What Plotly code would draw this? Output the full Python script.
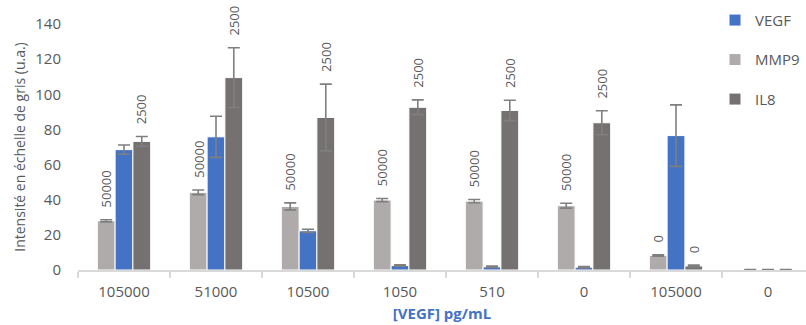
import plotly.graph_objects as go

categories = ["105000", "51000", "10500", "1050", "510", "0", "105000", "0"]

mmp9 = [28.0, 44.2, 36.2, 39.8, 39.2, 36.6, 8.3, 0.3]
mmp9_err = [0.6, 1.3, 2.0, 0.9, 0.9, 1.4, 0.4, 0.0]
vegf = [68.5, 75.8, 22.3, 2.6, 1.8, 1.6, 76.5, 0.3]
vegf_err = [2.6, 11.7, 0.9, 0.4, 0.4, 0.4, 17.5, 0.0]
il8 = [73.2, 109.5, 86.8, 92.6, 90.8, 83.8, 2.3, 0.3]
il8_err = [2.8, 17.0, 19.0, 4.2, 5.8, 6.8, 0.5, 0.0]

mmp9_labels = ["50000", "50000", "50000", "50000", "50000", "50000", "0", ""]
il8_labels = ["2500", "2500", "2500", "2500", "2500", "2500", "0", ""]

x = list(range(len(categories)))
BARGAP = 0.42
bw = (1 - BARGAP) / 3

err_style = dict(type="data", color="#7F7F7F", thickness=1.6, width=6)
font_family = "Open Sans, Liberation Sans, sans-serif"
text_col = "#595959"

fig = go.Figure()
series = [
    ("MMP9", mmp9, mmp9_err, "#AFABAB", 2),
    ("VEGF", vegf, vegf_err, "#4472C4", 1),
    ("IL8", il8, il8_err, "#767171", 3),
]
for name, vals, errs, col, rank in series:
    fig.add_trace(go.Bar(
        x=x, y=vals, name=name, marker=dict(color=col, line=dict(color="white", width=1)),
        error_y=dict(array=errs, **err_style), legendrank=rank, legendgroup=name,
        hoverinfo="skip",
    ))

annotations = []
for i in x:
    for labels, vals, errs, off in [(mmp9_labels, mmp9, mmp9_err, -bw), (il8_labels, il8, il8_err, bw)]:
        if labels[i]:
            annotations.append(dict(
                x=i + off, y=vals[i] + errs[i], xref="x", yref="y", text=labels[i],
                textangle=-90, showarrow=False, yanchor="bottom", yshift=10,
                font=dict(size=13, color=text_col, family=font_family),
            ))

fig.update_layout(
    width=806, height=325,
    margin=dict(l=78, r=0, t=24, b=55, autoexpand=False),
    barmode="group", bargap=BARGAP, bargroupgap=0,
    plot_bgcolor="white", paper_bgcolor="white",
    font=dict(family=font_family, color=text_col),
    showlegend=True,
    legend=dict(x=0.875, y=1.082, xanchor="left", yanchor="top", tracegroupgap=17,
                font=dict(size=15, color=text_col), bgcolor="rgba(0,0,0,0)",
                itemwidth=30),
    annotations=annotations,
    xaxis=dict(
        range=[-0.5, 7.413], tickmode="array", tickvals=x, ticktext=categories,
        ticks="", showline=True, linecolor="#D9D9D9", linewidth=1.5, showgrid=False,
        zeroline=False, tickfont=dict(size=15, color=text_col), automargin=False,
        ticklabelstandoff=7,
        minor=dict(ticks="outside", tick0=-0.5, dtick=1, ticklen=6, tickcolor="#D9D9D9", tickwidth=1.5),
        title=dict(text="<b>[VEGF] pg/mL</b>", font=dict(size=15, color="#4472C4"), standoff=9),
    ),
    yaxis=dict(
        range=[0, 140], tickvals=[0, 20, 40, 60, 80, 100, 120, 140], showgrid=False,
        zeroline=False, showline=False, tickfont=dict(size=15, color=text_col), ticklabelstandoff=16,
        automargin=False,
        title=dict(text="Intensité en échelle de gris (u.a.)", font=dict(size=14, color=text_col), standoff=6),
    ),
)

fig.write_html("out.html", config={"displayModeBar": False},
               post_script="document.body.style.margin='0';")
